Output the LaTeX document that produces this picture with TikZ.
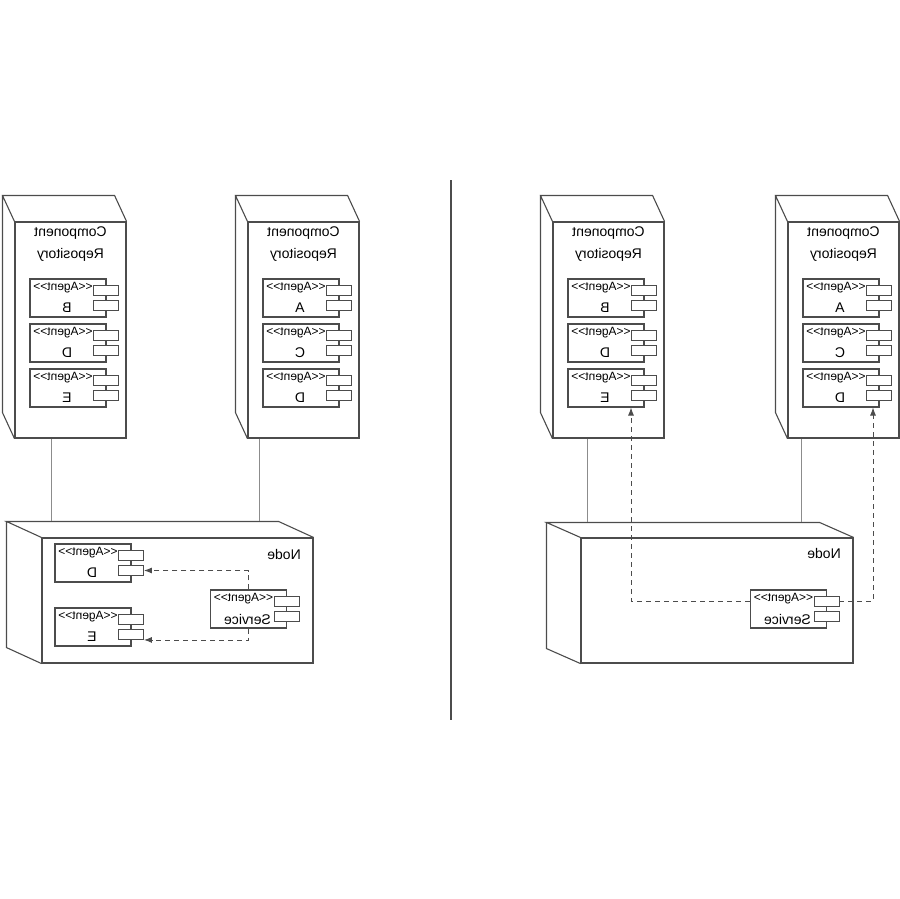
\documentclass[tikz,border=0pt]{standalone}
\usepackage{graphicx}
\usepackage{fontspec}
\setmainfont{Liberation Sans}
\usetikzlibrary{arrows.meta}
\definecolor{line grey}{rgb}{0.3, 0.3, 0.3}
\definecolor{wire grey}{rgb}{0.55, 0.55, 0.55}

% box with depth: name, centre x, centre y, width, height, depth x, depth y
\newcommand{\cuboid}[7]{%
	\node[face, minimum width=#4pt, minimum height=#5pt] (#1) at (#2, #3) {};
	\coordinate (#1-back) at ([shift={(-#6, -#7)}]#1.north west);
	\draw[rim]
		(#1.north west) -- (#1-back)
		-- ([shift={(-#6, -#7)}]#1.north east) -- (#1.north east)
		(#1-back) -- ([shift={(-#6, -#7)}]#1.south west) -- (#1.south west);
}
% agent component: name, centre x, top y, text
\newcommand{\agent}[4]{%
	\node[face, minimum width=76pt, minimum height=38pt] (#1) at (#2, #3 + 19) {};
	\node[port] (#1-p1) at (#2 + 38, #3 + 11) {};
	\node[port] (#1-p2) at (#2 + 38, #3 + 26.5) {};
	\node[stereo] at (#2 - 5, #3 + 9) {\reflectbox{<{}<Agent>{}>}};
	\node[agentname] at (#2 - 1, #3 + 29) {\reflectbox{#4}};
}
% repository title, two lines
\newcommand{\repotitle}[2]{%
	\node[agentname] at (#1, #2 - 11) {\reflectbox{Component}};
	\node[agentname] at (#1, #2 + 11) {\reflectbox{Repository}};
}

\begin{document}
\begin{tikzpicture}[x=1pt, y=-1pt,
	face/.style={draw=line grey, line width=1.1pt, fill=white, inner sep=0pt},
	rim/.style={draw=line grey, line width=1.1pt},
	port/.style={draw=line grey, line width=0.9pt, fill=white, inner sep=0pt,
		minimum width=25pt, minimum height=10pt},
	stereo/.style={inner sep=0pt, font=\fontsize{12}{14}\selectfont},
	agentname/.style={inner sep=0pt, font=\fontsize{14}{16}\selectfont},
	wire/.style={draw=wire grey, line width=0.8pt},
	dep/.style={draw=line grey, line width=0.9pt, dash pattern=on 5pt off 4pt,
		-{Latex[length=8pt, width=6pt]}}]
	\useasboundingbox (0, 0) rectangle (900, 899);
	% divider
	\draw[line grey, line width=2pt] (451, 180) -- (451, 720);

	% left: repositories
	\cuboid{repA}{70.5}{330}{111}{216}{12}{26}
	\repotitle{70.5}{244}
	\agent{bA}{68}{279}{B}
	\agent{dA}{68}{324}{D}
	\agent{eA}{68}{369}{E}
	\cuboid{repB}{303.5}{330}{111}{216}{12}{26}
	\repotitle{303.5}{244}
	\agent{aB}{301}{279}{A}
	\agent{cB}{301}{324}{C}
	\agent{dB}{301}{369}{D}
	% left: node
	\cuboid{nodeL}{177.5}{600.5}{271}{125}{35}{16}
	\node[agentname, anchor=east] at (301, 554) {\reflectbox{Node}};
	\agent{dL}{93}{544}{D}
	\agent{eL}{93}{608}{E}
	\agent{svcL}{248.5}{590}{Service}
	\coordinate (repA-foot) at ([xshift=37pt]repA.south west);
	\coordinate (repB-foot) at ([xshift=12pt]repB.south west);
	\draw[wire] (repA-foot) -- (repA-foot |- nodeL-back);
	\draw[wire] (repB-foot) -- (repB-foot |- nodeL-back);
	\draw[dep] (svcL.north) |- (dL-p2.east);
	\draw[dep] (svcL.south) |- (eL-p2.south east);

	% right: repositories
	\cuboid{repC}{608.5}{330}{111}{216}{12}{26}
	\repotitle{608.5}{244}
	\agent{bC}{606}{279}{B}
	\agent{dC}{606}{324}{D}
	\agent{eC}{606}{369}{E}
	\cuboid{repD}{843.5}{330}{111}{216}{12}{26}
	\repotitle{843.5}{244}
	\agent{aD}{841}{279}{A}
	\agent{cD}{841}{324}{C}
	\agent{dD}{841}{369}{D}
	% right: node
	\cuboid{nodeR}{717}{600.5}{272}{125}{34}{15}
	\node[agentname, anchor=east] at (841, 553) {\reflectbox{Node}};
	\agent{svcR}{788.5}{590}{Service}
	\coordinate (repC-foot) at ([xshift=35pt]repC.south west);
	\coordinate (repD-foot) at ([xshift=14pt]repD.south west);
	\draw[wire] (repC-foot) -- (repC-foot |- nodeR-back);
	\draw[wire] (repD-foot) -- (repD-foot |- nodeR-back);
	\coordinate (eC-tap) at ([xshift=25pt]eC.south);
	\coordinate (dD-tap) at ([xshift=32pt]dD.south);
	\draw[dep] (svcR.west |- svcR-p1.center) -| (eC-tap);
	\draw[dep] (svcR-p1.east) -| (dD-tap);
\end{tikzpicture}
\end{document}
